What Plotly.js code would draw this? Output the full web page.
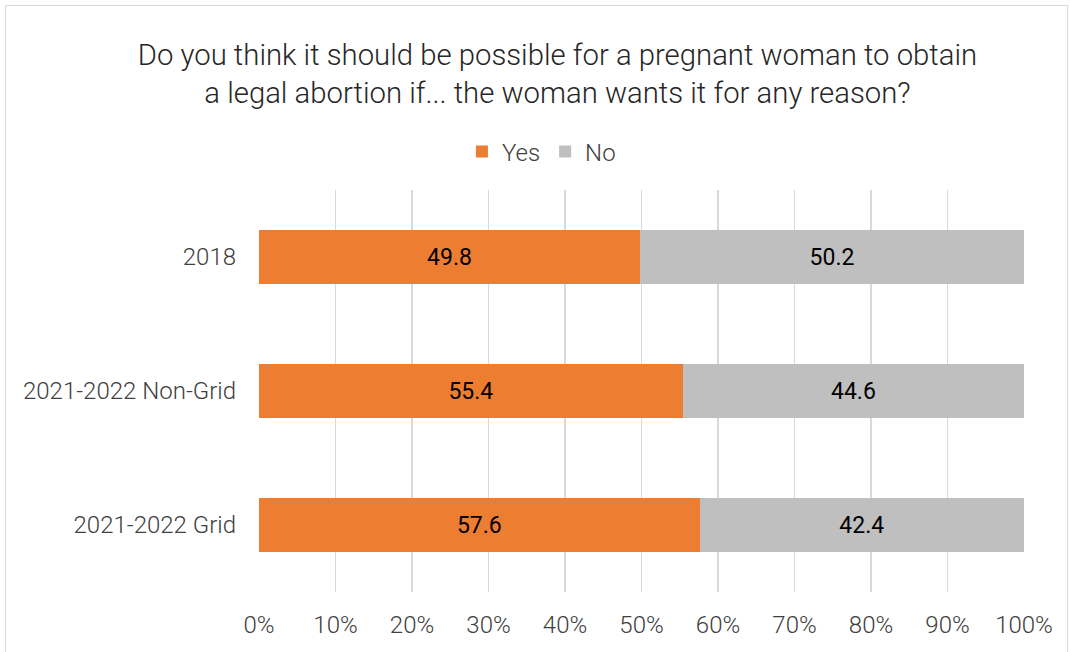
<!DOCTYPE html>
<html>
<head>
<meta charset="utf-8">
<script src="https://cdn.plot.ly/plotly-3.0.1.min.js"></script>
<style>
html,body{margin:0;padding:0;background:#fff;}
#wrap{position:relative;width:1070px;height:652px;}
#chart{position:absolute;left:0;top:0;width:1070px;height:652px;}
#frame{position:absolute;left:5px;top:5px;width:1061px;height:660px;border:1.5px solid #d9d9d9;pointer-events:none;}
</style>
</head>
<body>
<div id="wrap"><div id="chart"></div><div id="frame"></div></div>
<script>
const categories = ["2018", "2021-2022 Non-Grid", "2021-2022 Grid"];
const yesValues = [49.8, 55.4, 57.6];
const noValues = [50.2, 44.6, 42.4];
const xTickVals = [0, 10, 20, 30, 40, 50, 60, 70, 80, 90, 100];
const xTickText = ["0%", "10%", "20%", "30%", "40%", "50%", "60%", "70%", "80%", "90%", "100%"];

const common = {
  type: "bar",
  orientation: "h",
  y: categories,
  width: 0.4,
  texttemplate: "%{x:.1f}",
  textposition: "inside",
  insidetextanchor: "middle",
  constraintext: "none",
  textfont: {family: "Roboto, sans-serif", size: 23, color: "#000000"},
  hoverinfo: "skip"
};

const data = [
  Object.assign({}, common, {name: "Yes", x: yesValues, marker: {color: "#ED7D31", line: {width: 0}}}),
  Object.assign({}, common, {name: "No", x: noValues, marker: {color: "#BFBFBF", line: {width: 0}}})
];

const layout = {
  width: 1070,
  height: 652,
  barmode: "stack",
  paper_bgcolor: "#ffffff",
  plot_bgcolor: "#ffffff",
  margin: {l: 259, r: 46, t: 190, b: 60, pad: 0},
  font: {family: "Roboto, sans-serif", color: "#404040"},
  title: {
    text: "Do you think it should be possible for a pregnant woman to obtain<br>a legal abortion if... the woman wants it for any reason?",
    font: {family: "Roboto, sans-serif", weight: 300, size: 29.3, color: "#262626"},
    x: 0.521, xanchor: "center", xref: "container",
    y: 0.901, yanchor: "top", yref: "container"
  },
  showlegend: true,
  legend: {
    orientation: "h",
    x: 0.506, xanchor: "center", xref: "container",
    y: 0.767, yanchor: "middle", yref: "container",
    font: {family: "Roboto, sans-serif", size: 24, color: "#404040", weight: 300},
    itemwidth: 30,
    traceorder: "normal"
  },
  xaxis: {
    range: [0, 100],
    tickvals: xTickVals,
    ticktext: xTickText,
    showgrid: true,
    gridcolor: "#d9d9d9",
    gridwidth: 1.5,
    zeroline: false,
    showline: false,
    ticks: "",
    ticklabelstandoff: 16,
    tickfont: {family: "Roboto, sans-serif", size: 24, color: "#404040", weight: 300},
    fixedrange: true
  },
  yaxis: {
    type: "category",
    autorange: "reversed",
    showgrid: false,
    zeroline: false,
    showline: false,
    ticks: "",
    ticklabelstandoff: 22,
    tickfont: {family: "Roboto, sans-serif", size: 24, color: "#404040", weight: 300},
    fixedrange: true
  }
};

Plotly.newPlot("chart", data, layout, {displayModeBar: false, staticPlot: true});
</script>
</body>
</html>
